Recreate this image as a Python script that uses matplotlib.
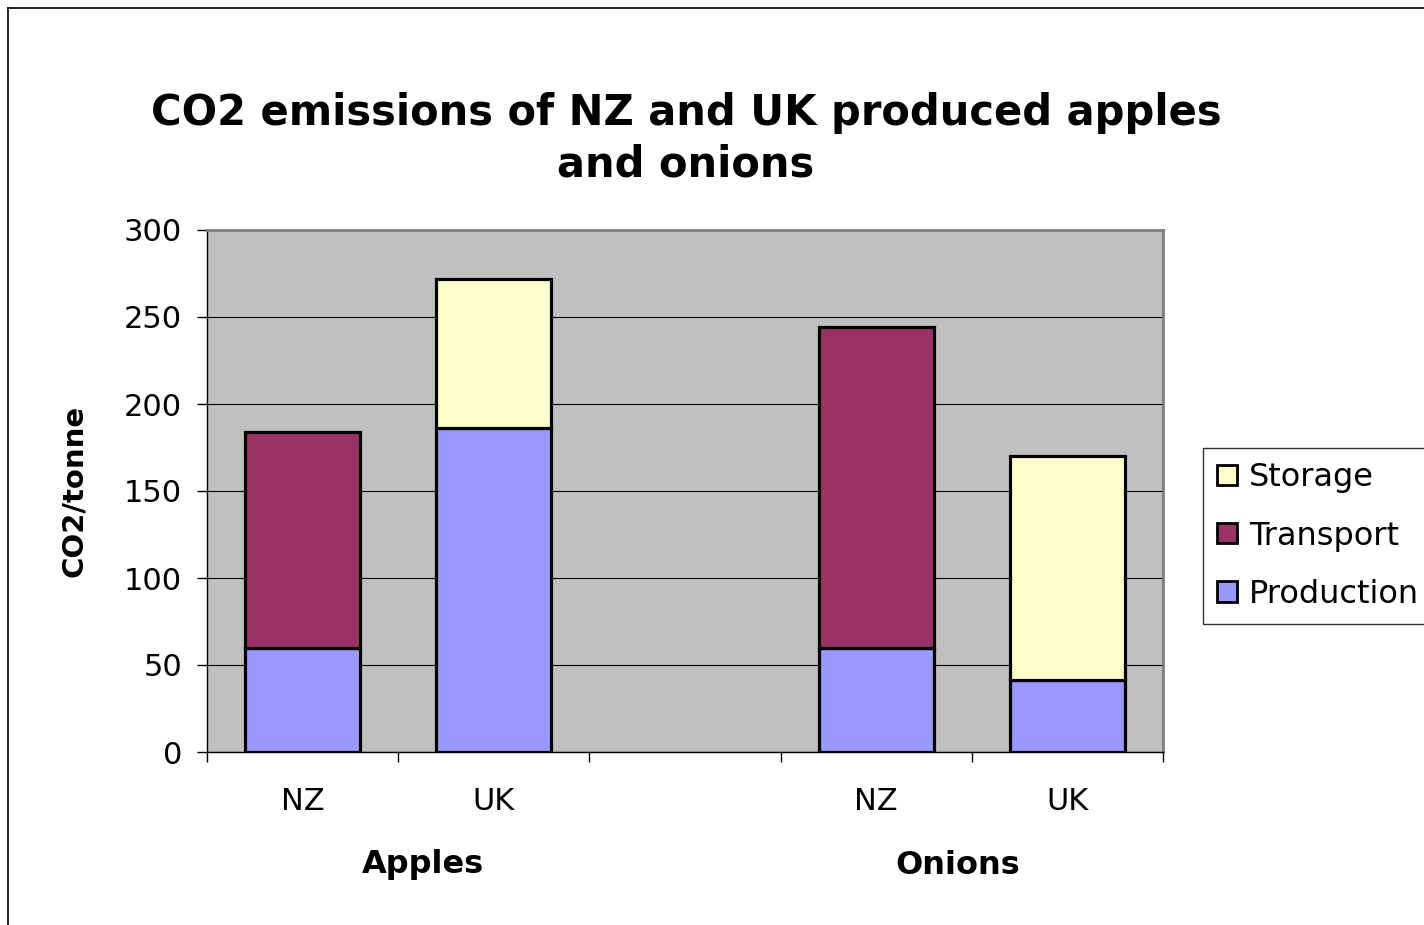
import matplotlib
matplotlib.use("Agg")
import matplotlib.pyplot as plt
from matplotlib.patches import Patch
from matplotlib.lines import Line2D

plt.rcParams['font.family'] = ['DejaVu Sans']

# Data
bar_labels = ["NZ", "UK", "", "NZ", "UK"]
groups = ["Apples", "Onions"]
production = [60, 186, 0, 60, 41.5]
transport = [124, 0, 0, 184, 0]
storage = [0, 86, 0, 0, 128.5]
colors = {"Production": "#9999FF", "Transport": "#993366", "Storage": "#FFFFCC"}
yticks = [0, 50, 100, 150, 200, 250, 300]

W, H = 1424, 925
fig = plt.figure(figsize=(W / 100, H / 100), dpi=100)
fig.patch.set_facecolor("white")

def fx(px):
    return px / W

def fy(py):
    return 1 - py / H

ax = fig.add_axes([fx(207), fy(752), fx(1163) - fx(207), fy(230) - fy(752)])
ax.set_facecolor("#C0C0C0")

positions = [0, 1, 2, 3, 4]
bar_pos = [p for p, l in zip(positions, bar_labels) if l]
def sel(vals):
    return [v for v, l in zip(vals, bar_labels) if l]

p_vals = sel(production)
t_vals = sel(transport)
s_vals = sel(storage)
lw = 2.3
ax.bar(bar_pos, p_vals, width=0.6, color=colors["Production"], edgecolor="black", linewidth=lw, zorder=3)
t_pos = [x for x, v in zip(bar_pos, t_vals) if v > 0]
t_b = [b for b, v in zip(p_vals, t_vals) if v > 0]
t_h = [v for v in t_vals if v > 0]
ax.bar(t_pos, t_h, bottom=t_b, width=0.6, color=colors["Transport"], edgecolor="black", linewidth=lw, zorder=3)
bs = [a + b for a, b in zip(p_vals, t_vals)]
s_pos = [x for x, v in zip(bar_pos, s_vals) if v > 0]
s_b = [b for b, v in zip(bs, s_vals) if v > 0]
s_h = [v for v in s_vals if v > 0]
ax.bar(s_pos, s_h, bottom=s_b, width=0.6, color=colors["Storage"], edgecolor="black", linewidth=lw, zorder=3)

ax.set_xlim(-0.5, 4.5)
ax.set_ylim(0, 300)
ax.set_yticks(yticks)
ax.set_yticklabels([str(v) for v in yticks], fontsize=22)
ax.yaxis.grid(True, color="black", linewidth=0.8, zorder=1)
ax.set_axisbelow(True)

ax.set_xticks([i - 0.5 for i in range(6)])
ax.set_xticklabels([])
ax.set_xticks(bar_pos, minor=True)
ax.set_xticklabels([l for l in bar_labels if l], minor=True, fontsize=22)
ax.tick_params(axis="x", which="major", direction="out", length=7, width=1, color="black")
ax.tick_params(axis="x", which="minor", length=0, pad=25)
ax.tick_params(axis="y", direction="out", length=7, width=1, pad=11)

for s in ["top", "right"]:
    ax.spines[s].set_color("#808080")
    ax.spines[s].set_linewidth(2)
for s in ["left", "bottom"]:
    ax.spines[s].set_color("black")
    ax.spines[s].set_linewidth(1)

ax.set_ylabel("CO2/tonne", fontsize=21, fontweight="bold", labelpad=26)

# Group labels
fig.text(fx(423), fy(865), groups[0], ha="center", va="center", fontsize=23, fontweight="bold")
fig.text(fx(958), fy(865), groups[1], ha="center", va="center", fontsize=23, fontweight="bold")

# Title
fig.text(fx(686), fy(139), "CO2 emissions of NZ and UK produced apples\nand onions",
         ha="center", va="center", fontsize=30, fontweight="bold", linespacing=1.3)

# Legend
handles = [Patch(facecolor=colors[n], edgecolor="black", linewidth=2) for n in ["Storage", "Transport", "Production"]]
leg = fig.legend(handles, ["Storage", "Transport", "Production"], loc="upper left",
                 bbox_to_anchor=(fx(1203), fy(448)), fontsize=23, frameon=True, fancybox=False,
                 edgecolor="black", handlelength=0.6, handleheight=0.6, handletextpad=0.4,
                 labelspacing=0.85, borderpad=0.45, borderaxespad=0)
leg.get_frame().set_linewidth(1)

# Figure border (left and top)
fig.add_artist(Line2D([fx(8), fx(8)], [0, fy(8)], color="black", linewidth=1.2, transform=fig.transFigure))
fig.add_artist(Line2D([fx(8), 1], [fy(8), fy(8)], color="black", linewidth=1.2, transform=fig.transFigure))

fig.savefig("out.png", dpi=100)
